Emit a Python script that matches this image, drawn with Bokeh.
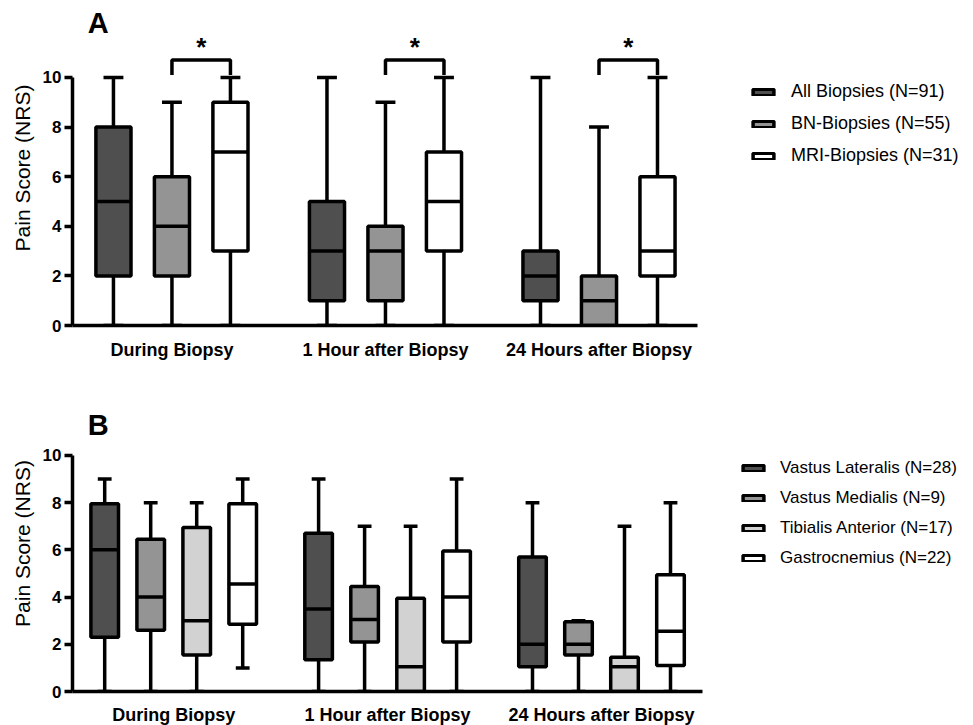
from bokeh.plotting import figure
from bokeh.models import ColumnDataSource, Legend, LegendItem, Label, FixedTicker
from bokeh.layouts import column
from bokeh.core.properties import value
from bokeh.embed import file_html
from bokeh.resources import INLINE

# ---------------- data ----------------
TIME_POINTS = ["During Biopsy", "1 Hour after Biopsy", "24 Hours after Biopsy"]

# Panel A  (rows: time point, columns: group)
A_GROUPS = ["All Biopsies (N=91)", "BN-Biopsies (N=55)", "MRI-Biopsies (N=31)"]
A_COLORS = ["#4f4f4f", "#949494", "#ffffff"]
A_MIN = [[0, 0, 0], [0, 0, 0], [0, 0, 0]]
A_Q1 = [[2, 2, 3], [1, 1, 3], [1, 0, 2]]
A_MED = [[5, 4, 7], [3, 3, 5], [2, 1, 3]]
A_Q3 = [[8, 6, 9], [5, 4, 7], [3, 2, 6]]
A_MAX = [[10, 9, 10], [10, 9, 10], [10, 8, 10]]
A_SIG = [(1, 2), (1, 2), (1, 2)]   # significant pairs (group indices) per time point

# Panel B
B_GROUPS = ["Vastus Lateralis (N=28)", "Vastus Medialis (N=9)",
            "Tibialis Anterior (N=17)", "Gastrocnemius (N=22)"]
B_COLORS = ["#4f4f4f", "#949494", "#d2d2d2", "#ffffff"]
B_MIN = [[0, 0, 0, 1], [0, 0, 0, 0], [0, 0, 0, 0]]
B_Q1 = [[2.3, 2.6, 1.55, 2.85], [1.35, 2.1, 0, 2.1], [1.05, 1.55, 0, 1.1]]
B_MED = [[6, 4, 3, 4.55], [3.5, 3.05, 1.05, 4], [2, 2, 1.05, 2.55]]
B_Q3 = [[7.95, 6.45, 6.95, 7.95], [6.7, 4.45, 3.95, 5.95], [5.7, 2.95, 1.45, 4.95]]
B_MAX = [[9, 8, 8, 9], [9, 7, 7, 9], [8, 3, 7, 8]]
B_SIG = []

Y_TICKS = [0, 2, 4, 6, 8, 10]
Y_LABEL = "Pain Score (NRS)"

FONT = "Liberation Sans"
LW = 3.5


def make_panel(letter, groups, colors, mins, q1s, meds, q3s, maxs, sig,
               px_per_x, group_step, axis_right, y_end,
               frame_h, top_border, bottom_border, legend_loc, legend_spacing,
               legend_font, legend_standoff, label_xy, cap_half, x_standoff):
    frame_w = 888
    left_border = 72
    right_border = 10
    x_start = -0.7
    x_end = x_start + frame_w / px_per_x
    p = figure(width=left_border + frame_w + right_border,
               height=top_border + frame_h + bottom_border,
               frame_width=frame_w, frame_height=frame_h,
               x_range=(x_start, x_end), y_range=(0, y_end),
               output_backend="svg", toolbar_location=None,
               min_border_left=left_border, min_border_right=right_border,
               min_border_top=top_border, min_border_bottom=bottom_border)
    p.outline_line_color = None
    p.xgrid.visible = False
    p.ygrid.visible = False
    p.background_fill_color = "white"
    p.border_fill_color = "white"

    n = len(groups)
    items = []
    for i, g in enumerate(groups):
        xs = [t * group_step + i for t in range(len(TIME_POINTS))]
        src = ColumnDataSource(dict(
            x=xs,
            bl=[x - 0.3 for x in xs], br=[x + 0.3 for x in xs],
            cl=[x - cap_half for x in xs], cr=[x + cap_half for x in xs],
            mn=[r[i] for r in mins], q1=[r[i] for r in q1s], med=[r[i] for r in meds],
            q3=[r[i] for r in q3s], mx=[r[i] for r in maxs]))
        p.segment(x0="x", y0="mn", x1="x", y1="q1", source=src, line_color="black", line_width=LW)
        p.segment(x0="x", y0="q3", x1="x", y1="mx", source=src, line_color="black", line_width=LW)
        p.segment(x0="cl", y0="mx", x1="cr", y1="mx", source=src, line_color="black", line_width=LW)
        p.segment(x0="cl", y0="mn", x1="cr", y1="mn", source=src, line_color="black", line_width=LW)
        box = p.quad(left="bl", right="br", bottom="q1", top="q3", source=src,
                     fill_color=colors[i], line_color="black", line_width=LW)
        p.segment(x0="bl", y0="med", x1="br", y1="med", source=src, line_color="black", line_width=LW)
        items.append(LegendItem(label=g, renderers=[box]))

    # significance brackets
    if sig:
        bxs, bys, sx, sy = [], [], [], []
        for t, (a, b) in enumerate(sig):
            xa = t * group_step + a
            xb = t * group_step + b
            bxs.append([xa, xa, xb, xb])
            bys.append([10.1, 10.7, 10.7, 10.1])
            sx.append((xa + xb) / 2)
            sy.append(11.22)
        p.multi_line(xs=bxs, ys=bys, line_color="black", line_width=LW)
        p.text(x=sx, y=sy, text=["*"] * len(sx), text_font=value(FONT),
               text_font_style="bold", text_font_size="26px",
               text_align="center", text_baseline="middle", text_color="black")

    # axes
    ya = p.yaxis[0]
    ya.ticker = FixedTicker(ticks=Y_TICKS)
    ya.bounds = (0, 10)
    ya.axis_line_width = LW
    ya.major_tick_line_width = LW
    ya.major_tick_out = 8
    ya.major_tick_in = 0
    ya.minor_tick_line_color = None
    ya.major_label_text_font = FONT
    ya.major_label_text_font_style = "bold"
    ya.major_label_text_font_size = "17px"
    ya.major_label_text_color = "black"
    ya.major_label_standoff = 3
    ya.axis_label = Y_LABEL
    ya.axis_label_text_font = FONT
    ya.axis_label_text_font_style = "normal"
    ya.axis_label_text_font_size = "21px"
    ya.axis_label_text_color = "black"
    ya.axis_label_standoff = 6

    xa_ = p.xaxis[0]
    centers = [t * group_step + (n - 1) / 2 for t in range(len(TIME_POINTS))]
    xa_.ticker = FixedTicker(ticks=centers)
    xa_.major_label_overrides = {c: lab for c, lab in zip(centers, TIME_POINTS)}
    xa_.bounds = (x_start, axis_right)
    xa_.axis_line_width = LW
    xa_.major_tick_line_color = None
    xa_.minor_tick_line_color = None
    xa_.major_tick_out = 0
    xa_.major_tick_in = 0
    xa_.major_label_text_font = FONT
    xa_.major_label_text_font_style = "bold"
    xa_.major_label_text_font_size = "18px"
    xa_.major_label_text_color = "black"
    xa_.major_label_standoff = x_standoff

    lg = Legend(items=items, location=legend_loc, glyph_width=26, glyph_height=8,
                label_standoff=legend_standoff, spacing=legend_spacing, padding=0, margin=0,
                border_line_alpha=0, background_fill_alpha=0,
                label_text_font=FONT, label_text_font_size=legend_font,
                label_text_color="black", label_height=20)
    p.add_layout(lg)

    p.add_layout(Label(x=label_xy[0], y=label_xy[1], text=letter, text_font=FONT,
                       text_font_style="bold", text_font_size="29px",
                       text_align="left", text_baseline="middle", text_color="black"))
    return p


pa = make_panel("A", A_GROUPS, A_COLORS, A_MIN, A_Q1, A_MED, A_Q3, A_MAX, A_SIG,
                px_per_x=58.5, group_step=3.65, axis_right=9.98,
                y_end=12.70, frame_h=315, top_border=10, bottom_border=55,
                legend_loc=(678, 159), legend_spacing=11, legend_font="18px",
                legend_standoff=15, label_xy=(-0.44, 12.2),
                cap_half=0.17, x_standoff=14)

pb = make_panel("B", B_GROUPS, B_COLORS, B_MIN, B_Q1, B_MED, B_Q3, B_MAX, B_SIG,
                px_per_x=46.0, group_step=4.65, axis_right=13.0,
                y_end=12.54, frame_h=296, top_border=15, bottom_border=32,
                legend_loc=(668, 123), legend_spacing=10, legend_font="17px",
                legend_standoff=14, label_xy=(-0.37, 11.27),
                cap_half=0.15, x_standoff=13)

layout = column(pa, pb, spacing=0)
open("out.html", "w").write(file_html(layout, INLINE))
